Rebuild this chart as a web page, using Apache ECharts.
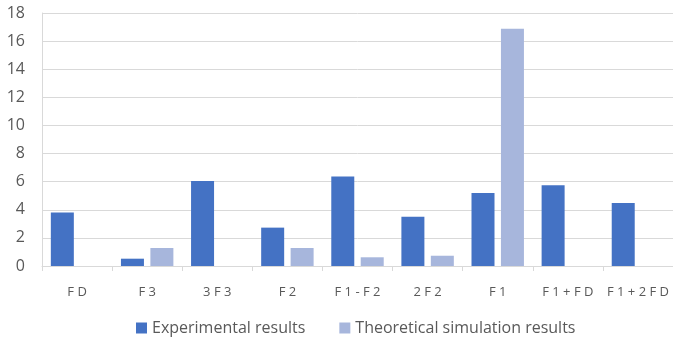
<!DOCTYPE html>
<html><head><meta charset="utf-8">
<script src="https://cdn.jsdelivr.net/npm/echarts@6/dist/echarts.min.js"></script>
<style>html,body{margin:0;padding:0;background:#fff}#c{width:673px;height:337px}</style>
</head><body><div id="c"></div>
<script>
const categories = ["F D", "F 3", "3 F 3", "F 2", "F 1 - F 2", "2 F 2", "F 1", "F 1 + F D", "F 1 + 2 F D"];
const experimental = [3.80, 0.52, 6.05, 2.73, 6.36, 3.51, 5.20, 5.75, 4.49];
const theoretical = [null, 1.28, null, 1.28, 0.62, 0.73, 16.88, null, null];
const seriesNames = ["Experimental results", "Theoretical simulation results"];
const yTicks = {min: 0, max: 18, interval: 2};

const chart = echarts.init(document.getElementById('c'));
const font = '"Open Sans", sans-serif';
chart.setOption({
  animation: false,
  grid: {left: 42, top: 13, width: 637, height: 253, containLabel: false},
  legend: {
    top: 315, left: 131, itemWidth: 11, itemHeight: 11, itemGap: 34,
    icon: 'rect',
    textStyle: {fontFamily: font, fontSize: 16, color: '#595959'},
    data: seriesNames
  },
  xAxis: {
    type: 'category', data: categories,
    axisLine: {lineStyle: {color: '#D9D9D9', width: 1}},
    axisTick: {show: true, length: 5, lineStyle: {color: '#D9D9D9'}},
    axisLabel: {fontFamily: font, fontSize: 13, color: '#595959', margin: 20, interval: 0}
  },
  yAxis: {
    type: 'value', min: yTicks.min, max: yTicks.max, interval: yTicks.interval,
    axisLine: {show: true, lineStyle: {color: '#D9D9D9'}},
    axisTick: {show: false},
    splitLine: {lineStyle: {color: '#D9D9D9', width: 1}},
    axisLabel: {fontFamily: font, fontSize: 16, color: '#595959', margin: 17}
  },
  series: [
    {name: seriesNames[0], type: 'bar', data: experimental, barWidth: 23, barGap: '28%',
     itemStyle: {color: '#4472C4'}},
    {name: seriesNames[1], type: 'bar', data: theoretical, barWidth: 23,
     itemStyle: {color: '#A7B6DC'}}
  ]
});
</script></body></html>
